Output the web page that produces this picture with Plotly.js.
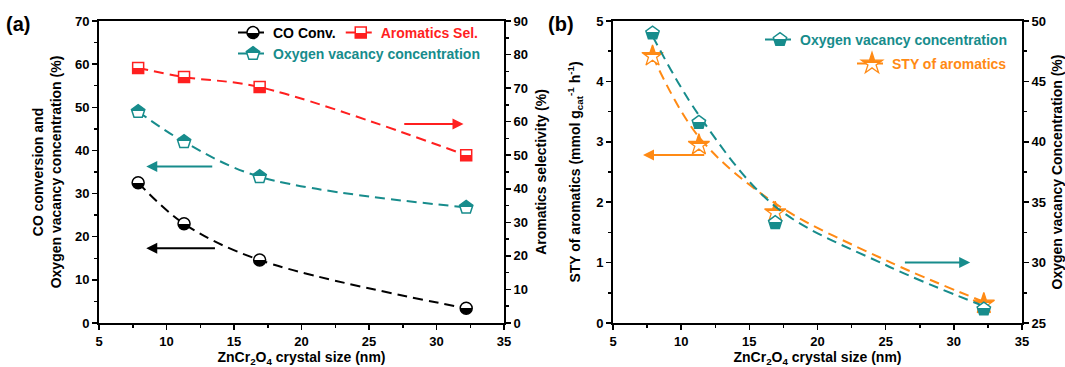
<!DOCTYPE html>
<html>
<head>
<meta charset="utf-8">
<script src="https://cdn.plot.ly/plotly-3.0.1.min.js"></script>
<style>
  html, body { margin: 0; padding: 0; background: #fff; }
  #chart { width: 1065px; height: 367px; }
</style>
</head>
<body>
<div id="chart"></div>
<script>
// ---------- data ----------
const crystalSize = [7.9, 11.3, 16.9, 32.2];          // nm
// panel (a)
const coConversion = [32.5, 23.0, 14.6, 3.4];         // % (left axis)
const aromaticsSel = [76.0, 73.3, 70.3, 50.0];        // % (right axis)
const oxyVacancyA = [49.0, 42.0, 33.9, 26.8];         // % (left axis)
// panel (b)
const styAromatics = [4.42, 2.95, 1.83, 0.32];        // mmol g_cat^-1 h^-1 (left axis)
const oxyVacancyB = [49.0, 41.6, 33.3, 26.15];        // % (right axis)
// panel (b) dashed fit curves
const fitSizeB = [7.9, 11.3, 16.9, 25.0, 32.2];
const fitStyB = [4.42, 3.08, 1.98, 1.04, 0.35];       // left-axis units
const fitOxyB = [48.75, 42.2, 34.65, 29.8, 26.4];     // right-axis units

const xTicks = [5, 10, 15, 20, 25, 30, 35];

// ---------- styles ----------
const BLACK = '#000000', RED = '#ff1f1f', TEAL = '#178c8c', ORANGE = '#ff8a14';
const FONT = 'Liberation Sans, Arial, sans-serif';
const W = 1065, H = 367;
const px = v => v / W;
const py = v => 1 - v / H;

const tickFont = {family: FONT, size: 13, color: '#000', weight: 'bold'};
const titleFont = {family: FONT, size: 14, color: '#000', weight: 'bold'};
const legFont = {family: FONT, size: 14, color: '#000', weight: 'bold'};

const yDom = [1 - 323 / H, 1 - 21 / H];

function axisBase(extra) {
  return Object.assign({
    showline: true, linewidth: 2, linecolor: '#000',
    ticks: 'outside', ticklen: 5, tickwidth: 1.5, tickcolor: '#000',
    showgrid: false, zeroline: false, tickfont: tickFont,
    automargin: false, fixedrange: true
  }, extra);
}

const lineBase = {dash: '10px,6px', width: 2, shape: 'spline', smoothing: 1};

const mCO = {symbol: 'circle', size: 12, color: '#ffffff',
             gradient: {type: 'vertical', color: BLACK}, line: {color: BLACK, width: 1.5}};
const mAR = {symbol: 'square', size: 11, color: '#ffffff',
             gradient: {type: 'vertical', color: RED}, line: {color: RED, width: 1.5}};
const mOA = {symbol: 'pentagon', size: 14, color: TEAL,
             gradient: {type: 'vertical', color: '#ffffff'}, line: {color: TEAL, width: 1.5}};
const mOB = {symbol: 'pentagon', size: 14, color: '#ffffff',
             gradient: {type: 'vertical', color: TEAL}, line: {color: TEAL, width: 1.5}};
const mST = {symbol: 'star', size: 16, color: ORANGE,
             gradient: {type: 'vertical', color: '#ffffff'}, line: {color: ORANGE, width: 1.3}};

const traces = [
  {
    x: crystalSize, y: coConversion, xaxis: 'x', yaxis: 'y', mode: 'lines+markers',
    name: '<span style="color:#000">CO Conv.</span>', legend: 'legend',
    line: Object.assign({color: BLACK}, lineBase), marker: mCO
  },
  {
    x: crystalSize, y: aromaticsSel, xaxis: 'x', yaxis: 'y2', mode: 'lines+markers',
    name: '<span style="color:' + RED + '">Aromatics Sel.</span>', legend: 'legend',
    line: Object.assign({color: RED}, lineBase), marker: mAR
  },
  {
    x: crystalSize, y: oxyVacancyA, xaxis: 'x', yaxis: 'y', mode: 'lines+markers',
    name: '<span style="color:' + TEAL + '">Oxygen vacancy concentration</span>', legend: 'legend2',
    line: Object.assign({color: TEAL}, lineBase), marker: mOA
  },
  // panel (b): fit curves
  {
    x: fitSizeB, y: fitOxyB, xaxis: 'x2', yaxis: 'y4', mode: 'lines', showlegend: false,
    line: Object.assign({color: TEAL}, lineBase)
  },
  {
    x: fitSizeB, y: fitStyB, xaxis: 'x2', yaxis: 'y3', mode: 'lines', showlegend: false,
    line: Object.assign({color: ORANGE}, lineBase)
  },
  // panel (b): measured points
  {
    x: crystalSize, y: oxyVacancyB, xaxis: 'x2', yaxis: 'y4', mode: 'markers', showlegend: false,
    marker: mOB
  },
  {
    x: crystalSize, y: styAromatics, xaxis: 'x2', yaxis: 'y3', mode: 'markers', showlegend: false,
    marker: mST
  },
  // panel (b): legend entries (line + marker)
  {
    x: [null], y: [null], xaxis: 'x2', yaxis: 'y4', mode: 'lines+markers',
    name: '<span style="color:' + TEAL + '">Oxygen vacancy concentration</span>', legend: 'legend3',
    line: Object.assign({color: TEAL}, lineBase), marker: mOB
  },
  {
    x: [null], y: [null], xaxis: 'x2', yaxis: 'y3', mode: 'lines+markers',
    name: '<span style="color:' + ORANGE + '">STY of aromatics</span>', legend: 'legend4',
    line: Object.assign({color: ORANGE}, lineBase), marker: mST
  }
];

function arrow(x, y, ax, xref, yref, color) {
  return {x: x, y: y, ax: ax, ay: y, xref: xref, yref: yref, axref: xref, ayref: yref,
          text: '', showarrow: true, arrowhead: 2, arrowsize: 1.1, arrowwidth: 2,
          arrowcolor: color};
}

const legendBase = {orientation: 'h', xanchor: 'left', yanchor: 'top', font: legFont,
                    bgcolor: 'rgba(0,0,0,0)', borderwidth: 0, itemwidth: 30,
                    itemclick: false, itemdoubleclick: false};

const layout = {
  width: W, height: H,
  margin: {l: 0, r: 0, t: 0, b: 0},
  paper_bgcolor: '#fff', plot_bgcolor: '#fff',
  font: {family: FONT, color: '#000'},
  xaxis: axisBase({
    domain: [px(99), px(504)], range: [5, 35], tickvals: xTicks, anchor: 'y', mirror: true,
    minor: {ticks: 'outside', ticklen: 3, tickwidth: 1.5, dtick: 2.5, tick0: 5, tickcolor: '#000'},
    title: {text: 'ZnCr<sub>2</sub>O<sub>4</sub> crystal size (nm)', font: titleFont, standoff: 5}
  }),
  yaxis: axisBase({
    domain: yDom, range: [0, 70], dtick: 10, anchor: 'x',
    minor: {ticks: 'outside', ticklen: 3, tickwidth: 1.5, dtick: 5, tickcolor: '#000'},
    title: {text: 'CO conversion and<br>Oxygen vacancy concentration (%)', font: titleFont, standoff: 10}
  }),
  yaxis2: axisBase({
    domain: yDom, range: [0, 90], dtick: 10, anchor: 'x', overlaying: 'y', side: 'right',
    minor: {ticks: 'outside', ticklen: 3, tickwidth: 1.5, dtick: 5, tickcolor: '#000'},
    title: {text: 'Aromatics selectivity (%)', font: titleFont, standoff: 9}
  }),
  xaxis2: axisBase({
    domain: [px(613), px(1022)], range: [5, 35], tickvals: xTicks, anchor: 'y3', mirror: true,
    minor: {ticks: 'outside', ticklen: 3, tickwidth: 1.5, dtick: 2.5, tick0: 5, tickcolor: '#000'},
    title: {text: 'ZnCr<sub>2</sub>O<sub>4</sub> crystal size (nm)', font: titleFont, standoff: 5}
  }),
  yaxis3: axisBase({
    domain: yDom, range: [0, 5], dtick: 1, anchor: 'x2',
    minor: {ticks: 'outside', ticklen: 3, tickwidth: 1.5, dtick: 0.5, tickcolor: '#000'},
    title: {text: 'STY of aromatics (mmol g<sub>cat</sub><sup>-1</sup> h<sup>-1</sup>)', font: titleFont, standoff: 12}
  }),
  yaxis4: axisBase({
    domain: yDom, range: [25, 50], dtick: 5, anchor: 'x2', overlaying: 'y3', side: 'right',
    minor: {ticks: 'outside', ticklen: 3, tickwidth: 1.5, dtick: 2.5, tickcolor: '#000'},
    title: {text: 'Oxygen vacancy Concentration (%)', font: titleFont, standoff: 9}
  }),
  legend: Object.assign({}, legendBase, {x: px(233), y: py(17)}),
  legend2: Object.assign({}, legendBase, {x: px(233), y: py(38)}),
  legend3: Object.assign({}, legendBase, {x: px(1012), y: py(24), xanchor: 'right'}),
  legend4: Object.assign({}, legendBase, {x: px(1012), y: py(48), xanchor: 'right'}),
  showlegend: true,
  annotations: [
    {text: '(a)', x: px(4), y: py(24), xref: 'paper', yref: 'paper', xanchor: 'left', yanchor: 'middle',
     showarrow: false, font: {family: FONT, size: 20, color: '#000', weight: 'bold'}},
    {text: '(b)', x: px(546), y: py(24), xref: 'paper', yref: 'paper', xanchor: 'left', yanchor: 'middle',
     showarrow: false, font: {family: FONT, size: 20, color: '#000', weight: 'bold'}},
    arrow(8.5, 17.3, 13.7, 'x', 'y', BLACK),
    arrow(8.5, 36.3, 13.5, 'x', 'y', TEAL),
    arrow(32.0, 59.3, 27.5, 'x', 'y2', RED),
    arrow(7.2, 2.78, 11.8, 'x2', 'y3', ORANGE),
    arrow(31.2, 30.0, 26.3, 'x2', 'y4', TEAL)
  ]
};

function hardenGradients() {
  document.querySelectorAll('#chart linearGradient').forEach(g => {
    g.querySelectorAll('stop').forEach(s => s.setAttribute('offset', '50%'));
  });
}

Plotly.newPlot('chart', traces, layout, {displayModeBar: false, staticPlot: true})
  .then(hardenGradients);
</script>
</body>
</html>
